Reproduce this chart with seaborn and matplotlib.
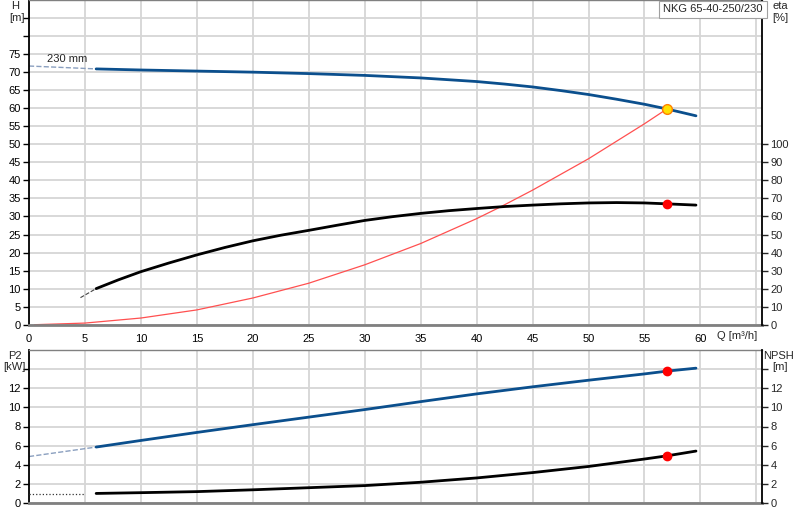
import numpy as np
import pandas as pd
import matplotlib
matplotlib.use("Agg")
import matplotlib.pyplot as plt
import seaborn as sns
from matplotlib.ticker import FixedLocator, FixedFormatter

# Pumppukäyrät (NKG 65-40-250/230), arvot luettu kuvasta
q_h = [6, 10, 15, 20, 25, 30, 35, 40, 42.5, 45, 47.5, 50, 52.5, 55, 57, 59.6]
h_vals = [70.9, 70.6, 70.3, 70.0, 69.6, 69.1, 68.4, 67.4, 66.7, 65.9, 64.9, 63.8, 62.5, 61.1, 59.8, 57.9]
q_h_ext = [0, 6]
h_ext = [71.7, 70.9]

q_eta = [6, 8, 10, 12.5, 15, 17.5, 20, 22.5, 25, 27.5, 30, 32.5, 35, 37.5, 40,
         42.5, 45, 47.5, 50, 52.5, 55, 57, 59.6]
eta_vals = [20.0, 24.9, 29.4, 34.2, 38.7, 42.8, 46.5, 49.6, 52.3, 55.1, 57.8, 59.9, 61.7,
            63.2, 64.4, 65.5, 66.3, 67.0, 67.5, 67.7, 67.5, 67.0, 66.3]
q_eta_ext = [4.6, 6]
eta_ext = [15.0, 20.0]

# järjestelmäkäyrä (punainen)
q_sys = [0.5, 5, 10, 15, 20, 25, 30, 35, 40, 42.1, 45, 50, 55, 57]
h_sys = [0.0, 0.45, 1.85, 4.1, 7.4, 11.5, 16.6, 22.5, 29.4, 32.6, 37.3, 46.0, 55.7, 59.8]

q_p2 = [6, 10, 15, 20, 25, 30, 35, 40, 45, 50, 55, 57, 59.6]
p2_vals = [5.85, 6.54, 7.38, 8.19, 8.98, 9.77, 10.6, 11.41, 12.15, 12.84, 13.5, 13.79, 14.1]
q_p2_ext = [0, 6]
p2_ext = [4.86, 5.85]

q_npsh = [6, 10, 15, 20, 25, 30, 35, 40, 45, 50, 55, 57, 59.6]
npsh_vals = [1.0, 1.08, 1.19, 1.38, 1.6, 1.82, 2.17, 2.62, 3.18, 3.82, 4.6, 4.93, 5.43]
q_npsh_ext = [0, 5]
npsh_ext = [0.98, 0.98]

q_duty = 57
h_duty = 59.8
eta_duty = 67.0
p2_duty = 13.79
npsh_duty = 4.93

h_ticks = list(range(0, 90, 5))
h_labels = [str(t) if t <= 75 else "" for t in h_ticks]
eta_ticks = list(range(0, 110, 10))
q_ticks = list(range(0, 70, 5))
q_labels = [str(t) if t <= 60 else "" for t in q_ticks]
p_ticks = list(range(0, 16, 2))
p_labels = [str(t) if t <= 12 else "" for t in p_ticks]

BLUE = "#0b4f8d"
GRID = "#d6d6d6"
FONT = ["Liberation Sans", "DejaVu Sans"]

sns.set_style("white")
plt.rcParams["font.family"] = FONT
plt.rcParams["font.size"] = 8

fig = plt.figure(figsize=(8, 5.2), dpi=100)
W, H = 800, 520
x0, x1 = 29, 762
ax = fig.add_axes([x0 / W, 1 - 324.7 / H, (x1 - x0) / W, 324.7 / H])
axb = fig.add_axes([x0 / W, 1 - 503 / H, (x1 - x0) / W, (503 - 350) / H])


def style_axes(a, ymax):
    a.set_xlim(0, 65.5)
    a.set_ylim(0, ymax)
    a.xaxis.set_major_locator(FixedLocator(q_ticks))
    a.grid(True, color=GRID, lw=1.3)
    a.set_axisbelow(True)
    for s in ["top", "bottom"]:
        a.spines[s].set_color("#808080")
    a.spines["top"].set_linewidth(1.0)
    a.spines["bottom"].set_linewidth(2.0)
    a.spines["left"].set_color("black")
    a.spines["left"].set_linewidth(1.3)
    a.spines["right"].set_visible(False)
    a.tick_params(axis="y", direction="out", length=4, width=1, pad=2,
                  labelsize=8, colors="black")
    a.set_xlabel("")
    a.set_ylabel("")


# --- yläpaneeli: H ja eta ---
style_axes(ax, 90)
ax.yaxis.set_major_locator(FixedLocator(h_ticks))
ax.yaxis.set_major_formatter(FixedFormatter(h_labels))
ax.xaxis.set_major_formatter(FixedFormatter(q_labels))
ax.tick_params(axis="x", direction="out", length=4, width=1, pad=3,
               labelsize=8, color="#808080", labelcolor="black")

sns.lineplot(x=q_h_ext, y=h_ext, ax=ax, color="#8a9fbf", lw=1, ls="--", sort=False)
sns.lineplot(x=q_sys, y=h_sys, ax=ax, color="#ff5050", lw=0.9, sort=False)
sns.lineplot(x=q_h, y=h_vals, ax=ax, color=BLUE, lw=2.0, sort=False)
ax.plot([q_duty], [h_duty], "o", ms=7, mfc="#ffe000", mec="#ff8000", mew=1, zorder=5)
ax.text(1.6, 73.6, "230 mm", fontsize=8, va="center")
ax.set_xlabel("")

ax_eta = ax.twinx()
ax_eta.set_ylim(0, 180)
ax_eta.set_xlim(0, 65.5)
ax_eta.yaxis.set_major_locator(FixedLocator(eta_ticks))
ax_eta.tick_params(axis="y", direction="out", length=4, width=1, pad=2, labelsize=8)
for s in ["top", "bottom", "left"]:
    ax_eta.spines[s].set_visible(False)
ax_eta.spines["right"].set_color("black")
ax_eta.spines["right"].set_linewidth(1.3)
sns.lineplot(x=q_eta_ext, y=eta_ext, ax=ax_eta, color="#444444", lw=0.8, ls="--", sort=False)
sns.lineplot(x=q_eta, y=eta_vals, ax=ax_eta, color="black", lw=2.0, sort=False)
ax_eta.plot([q_duty], [eta_duty], "o", ms=6, color="red", zorder=5)
ax_eta.set_ylabel("")

fig.text(15 / W, 1 - 6 / H, "H", ha="center", va="center", fontsize=8)
fig.text(17 / W, 1 - 18 / H, "[m]", ha="center", va="center", fontsize=8)
fig.text(780 / W, 1 - 6 / H, "eta", ha="center", va="center", fontsize=8)
fig.text(780 / W, 1 - 18 / H, "[%]", ha="center", va="center", fontsize=8)
fig.text(757 / W, 1 - 336 / H, "Q [m³/h]", ha="right", va="center", fontsize=8)
fig.text(713 / W, 1 - 9.5 / H, "NKG 65-40-250/230", ha="center", va="center",
         fontsize=8, bbox=dict(boxstyle="square,pad=0.35", fc="white", ec="#a0a0a0", lw=0.8))

# --- alapaneeli: P2 ja NPSH ---
style_axes(axb, 16)
axb.yaxis.set_major_locator(FixedLocator(p_ticks))
axb.yaxis.set_major_formatter(FixedFormatter(p_labels))
axb.tick_params(axis="x", length=0, labelbottom=False)

sns.lineplot(x=q_p2_ext, y=p2_ext, ax=axb, color="#8a9fbf", lw=1, ls="--", sort=False)
sns.lineplot(x=q_p2, y=p2_vals, ax=axb, color=BLUE, lw=2.0, sort=False)
axb.plot([q_duty], [p2_duty], "o", ms=6, color="red", zorder=5)
axb.set_xlabel("")

axn = axb.twinx()
axn.set_ylim(0, 16)
axn.set_xlim(0, 65.5)
axn.yaxis.set_major_locator(FixedLocator(p_ticks))
axn.yaxis.set_major_formatter(FixedFormatter(p_labels))
axn.tick_params(axis="y", direction="out", length=4, width=1, pad=2, labelsize=8)
for s in ["top", "bottom", "left"]:
    axn.spines[s].set_visible(False)
axn.spines["right"].set_color("black")
axn.spines["right"].set_linewidth(1.3)
sns.lineplot(x=q_npsh_ext, y=npsh_ext, ax=axn, color="#333333", lw=0.9, ls=":", sort=False)
sns.lineplot(x=q_npsh, y=npsh_vals, ax=axn, color="black", lw=2.0, sort=False)
axn.plot([q_duty], [npsh_duty], "o", ms=6, color="red", zorder=5)
axn.set_ylabel("")

fig.text(15 / W, 1 - 356 / H, "P2", ha="center", va="center", fontsize=8)
fig.text(14 / W, 1 - 367 / H, "[kW]", ha="center", va="center", fontsize=8)
fig.text(779 / W, 1 - 356 / H, "NPSH", ha="center", va="center", fontsize=8)
fig.text(780 / W, 1 - 367 / H, "[m]", ha="center", va="center", fontsize=8)

fig.savefig("out.png", dpi=100)
